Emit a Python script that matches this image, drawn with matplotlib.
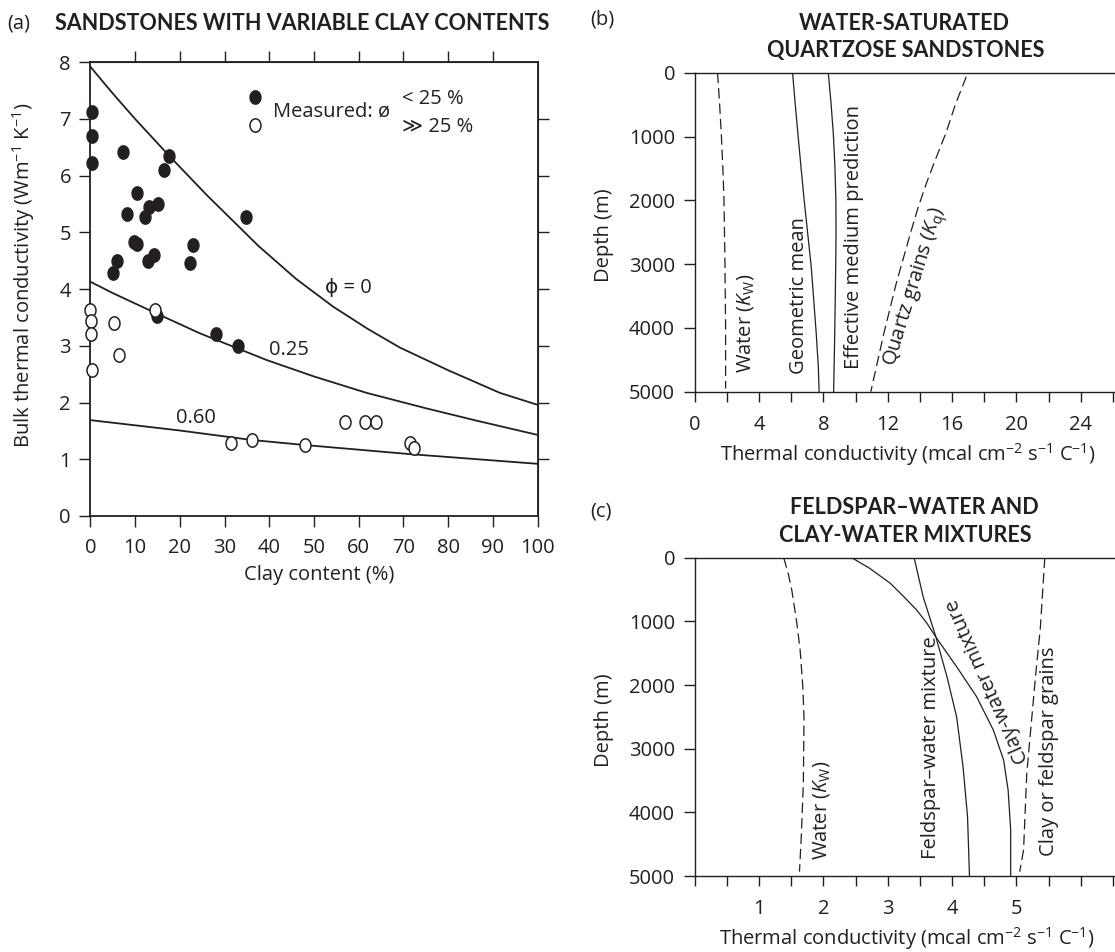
import numpy as np
import matplotlib
matplotlib.use('Agg')
import matplotlib.pyplot as plt
from matplotlib.path import Path
from matplotlib.lines import Line2D

INK = '#231f20'

plt.rcParams.update({
    'font.family': ['Open Sans', 'DejaVu Sans'],
    'font.size': 14.5,
    'text.color': INK,
    'axes.edgecolor': INK,
    'axes.labelcolor': INK,
    'xtick.color': INK,
    'ytick.color': INK,
    'mathtext.fontset': 'custom',
    'mathtext.rm': 'Open Sans',
    'mathtext.it': 'Open Sans:italic',
    'mathtext.bf': 'Open Sans:bold',
    'xtick.major.size': 8,
    'ytick.major.size': 8,
    'xtick.major.width': 1.0,
    'ytick.major.width': 1.0,
    'xtick.major.pad': 8,
    'ytick.major.pad': 6,
    'lines.scale_dashes': False,
})

# ---- (a) sandstones with variable clay contents ----
clay_low = [0.4, 0.4, 0.4, 7.35, 17.5, 16.5, 10.5, 8.1, 12.1, 13.2, 15.2, 9.7, 10.5,
            14.3, 12.8, 6.0, 5.0, 22.9, 22.3, 34.7, 14.8, 28.0, 33.1]
k_low = [7.13, 6.70, 6.22, 6.41, 6.34, 6.10, 5.69, 5.32, 5.27, 5.44, 5.50, 4.83, 4.80,
         4.60, 4.49, 4.50, 4.28, 4.78, 4.46, 5.27, 3.53, 3.20, 2.99]
clay_high = [0, 0.2, 0.2, 0.3, 5.2, 6.5, 14.5, 31.5, 36.1, 48.1, 56.9, 61.4, 63.9, 71.5, 72.3]
k_high = [3.63, 3.43, 3.20, 2.57, 3.41, 2.84, 3.64, 1.29, 1.34, 1.26, 1.66, 1.65, 1.65, 1.29, 1.19]

phi0_x = [0, 5, 10, 17.5, 26, 37.6, 46, 54.3, 62, 69.2, 80, 91.6, 100]
phi0_y = [7.92, 7.45, 7.0, 6.36, 5.66, 4.76, 4.18, 3.69, 3.30, 2.97, 2.57, 2.17, 1.96]
phi25_x = [0, 5, 14.8, 24.5, 39.4, 50, 61.8, 75, 86.4, 100]
phi25_y = [4.13, 3.93, 3.57, 3.22, 2.75, 2.46, 2.17, 1.90, 1.68, 1.43]
phi60_x = [0, 19.7, 36.1, 48.1, 71.6, 100]
phi60_y = [1.69, 1.51, 1.34, 1.25, 1.09, 0.92]

# ---- (b) water-saturated quartzose sandstones ----
b_water_k = [1.43, 1.56, 1.67, 1.76, 1.83, 1.89, 1.93, 1.93]
b_water_z = [0, 500, 1000, 1500, 2000, 3000, 4000, 4950]
b_geo_k = [6.09, 6.25, 6.42, 6.61, 6.81, 7.03, 7.25, 7.56, 7.69, 7.74]
b_geo_z = [0, 480, 950, 1470, 1996, 2520, 3041, 4086, 4608, 5000]
b_emt_k = [8.31, 8.48, 8.62, 8.72, 8.78, 8.79, 8.77, 8.71, 8.64]
b_emt_z = [0, 480, 950, 1470, 1996, 2520, 3041, 4086, 5000]
b_qtz_k = [16.88, 16.20, 15.61, 14.98, 14.40, 13.88, 13.41, 12.53, 11.76, 10.95]
b_qtz_z = [63, 500, 950, 1350, 1735, 2120, 2518, 3302, 4086, 5000]

# ---- (c) feldspar-water and clay-water mixtures ----
c_water_k = [1.385, 1.455, 1.51, 1.585, 1.64, 1.68, 1.70, 1.69, 1.66, 1.63]
c_water_z = [0, 250, 507, 1000, 1450, 2000, 2497, 3545, 4330, 4932]
c_clay_k = [2.44, 2.72, 3.04, 3.24, 3.45, 3.61, 3.75, 4.07, 4.38, 4.64, 4.80, 4.87, 4.91, 4.91]
c_clay_z = [0, 167, 402, 602, 822, 1031, 1250, 1712, 2183, 2706, 3178, 3649, 4277, 5000]
c_feld_k = [3.41, 3.55, 3.75, 3.92, 4.07, 4.17, 4.24, 4.27]
c_feld_z = [0, 612, 1250, 1869, 2497, 3283, 4068, 5000]
c_grain_k = [5.44, 5.37, 5.30, 5.16, 5.11, 5.05]
c_grain_z = [0, 1109, 1817, 3387, 4590, 4932]

b_ticks = np.arange(0, 27, 2)
b_labels = [str(t) if t % 4 == 0 and t <= 24 else '' for t in b_ticks]
c_ticks = np.arange(0, 6.6, 0.5)
c_labels = [str(int(t)) if t in (1, 2, 3, 4, 5) else '' for t in c_ticks]
depth_ticks = np.arange(0, 5001, 1000)

t = np.linspace(0, 2 * np.pi, 60)
dot = Path(np.column_stack([0.82 * np.cos(t), np.sin(t)]), closed=True)

fig = plt.figure(figsize=(11.15, 9.52), dpi=100)
ax_a = fig.add_axes([0.0811, 0.4580, 0.4010, 0.4766])
ax_b = fig.add_axes([0.6229, 0.5885, 0.3771, 0.3351])
ax_c = fig.add_axes([0.6229, 0.0798, 0.3771, 0.3344])

# panel (a)
for cx, cy in [(phi0_x, phi0_y), (phi25_x, phi25_y), (phi60_x, phi60_y)]:
    ax_a.plot(cx, cy, color=INK, lw=1.3)
ax_a.plot(clay_low, k_low, ls='none', marker=dot, ms=9.6, color=INK, clip_on=False, zorder=3)
ax_a.plot(clay_high, k_high, ls='none', marker=dot, ms=9.6, mfc='white', mec=INK, mew=1.1,
          clip_on=False, zorder=4)
ax_a.text(57.7, 4.02, 'ϕ = 0', ha='center', va='center')
ax_a.text(44.3, 2.93, '0.25', ha='center', va='center')
ax_a.text(23.6, 1.72, '0.60', ha='center', va='center')

handles = [Line2D([], [], ls='none', marker=dot, ms=9.6, color=INK),
           Line2D([], [], ls='none', marker=dot, ms=9.6, mfc='white', mec=INK, mew=1.1)]
ax_a.legend(handles, ['< 25 %', '≫ 25 %'], loc='upper left', bbox_to_anchor=(0.354, 0.9405),
            frameon=False, handlelength=0.6, handletextpad=7.0, labelspacing=0.39,
            borderpad=0, borderaxespad=0)
ax_a.text(0.409, 0.891, 'Measured: ø', transform=ax_a.transAxes, ha='left', va='center')

ax_a.set_xlim(0, 100)
ax_a.set_ylim(0, 8)
ax_a.set_xticks(range(0, 101, 10))
ax_a.set_yticks(range(0, 9))
for s in ax_a.spines.values():
    s.set_linewidth(1.3)
top = ax_a.secondary_xaxis('top')
top.set_xticks(range(10, 100, 10))
top.tick_params(labeltop=False, length=8, width=1.0)
right = ax_a.secondary_yaxis('right')
right.set_yticks(range(1, 8))
right.tick_params(labelright=False, length=8, width=1.0)
ax_a.set_xlabel('Clay content (%)', va='center')
ax_a.xaxis.set_label_coords(0.511, -0.130)
ax_a.set_ylabel('Bulk thermal conductivity (Wm$^{-1}$ K$^{-1}$)', va='center')
ax_a.yaxis.set_label_coords(-0.1485, 0.531)

# panels (b) and (c)
dash = dict(color=INK, lw=0.9, dashes=(7.5, 3.6))
solid = dict(color=INK, lw=0.9)
ax_b.plot(b_water_k, b_water_z, **dash)
ax_b.plot(b_geo_k, b_geo_z, **solid)
ax_b.plot(b_emt_k, b_emt_z, **solid)
ax_b.plot(b_qtz_k, b_qtz_z, **dash)
ax_b.text(3.19, 3929, 'Water ($K_\\mathrm{W}$)', rotation=90, ha='center', va='center')
ax_b.text(6.48, 3500, 'Geometric mean', rotation=90, ha='center', va='center')
ax_b.text(9.89, 2571, 'Effective medium prediction', rotation=90, ha='center', va='center')
ax_b.text(13.74, 3354, 'Quartz grains ($K_\\mathrm{q}$)', rotation=73, ha='center', va='center',
          rotation_mode='anchor')

ax_c.plot(c_water_k, c_water_z, **dash)
ax_c.plot(c_clay_k, c_clay_z, **solid)
ax_c.plot(c_feld_k, c_feld_z, **solid)
ax_c.plot(c_grain_k, c_grain_z, **dash)
ax_c.text(1.97, 3963, 'Water ($K_\\mathrm{W}$)', rotation=90, ha='center', va='center')
ax_c.text(3.68, 2980, 'Feldspar–water mixture', rotation=90, ha='center', va='center')
ax_c.text(4.56, 1935, 'Clay-water mixture', rotation=114, ha='center', va='center',
          rotation_mode='anchor')
ax_c.text(5.50, 3047, 'Clay or feldspar grains', rotation=90, ha='center', va='center')

xlabel = 'Thermal conductivity (mcal cm$^{-2}$ s$^{-1}$ C$^{-1}$)'
for ax, ticks, labels, xmax, lab_pos in [(ax_b, b_ticks, b_labels, 26.12, (0.507, -0.198)),
                                         (ax_c, c_ticks, c_labels, 6.53, (0.505, -0.195))]:
    ax.set_xlim(0, xmax)
    ax.set_ylim(5000, 0)
    ax.set_xticks(ticks, labels)
    ax.set_yticks(depth_ticks)
    ax.tick_params(axis='x', length=7.5, pad=9)
    ax.spines['right'].set_visible(False)
    for s in ['left', 'top', 'bottom']:
        ax.spines[s].set_linewidth(1.0)
    ax.set_ylabel('Depth (m)', va='center')
    ax.yaxis.set_label_coords(-0.2152, 0.49)
    ax.set_xlabel(xlabel, va='center')
    ax.xaxis.set_label_coords(*lab_pos)

# titles
W, H = 1115, 952
title_font = dict(family=['Lato', 'DejaVu Sans'], fontweight='bold', fontsize=15.5)
fig.text(7 / W, 1 - 24 / H, '(a)', ha='left', va='center')
fig.text(55 / W, 1 - 24 / H, 'SANDSTONES WITH VARIABLE CLAY CONTENTS', ha='left', va='center',
         **title_font)
fig.text(590 / W, 1 - 20 / H, '(b)', ha='left', va='center')
fig.text(904 / W, 1 - 23 / H, 'WATER-SATURATED', ha='center', va='center', **title_font)
fig.text(906 / W, 1 - 50 / H, 'QUARTZOSE SANDSTONES', ha='center', va='center', **title_font)
fig.text(590 / W, 1 - 512 / H, '(c)', ha='left', va='center')
fig.text(914 / W, 1 - 508 / H, 'FELDSPAR–WATER AND', ha='center', va='center', **title_font)
fig.text(905 / W, 1 - 535 / H, 'CLAY-WATER MIXTURES', ha='center', va='center', **title_font)

fig.savefig('out.png', dpi=100)
